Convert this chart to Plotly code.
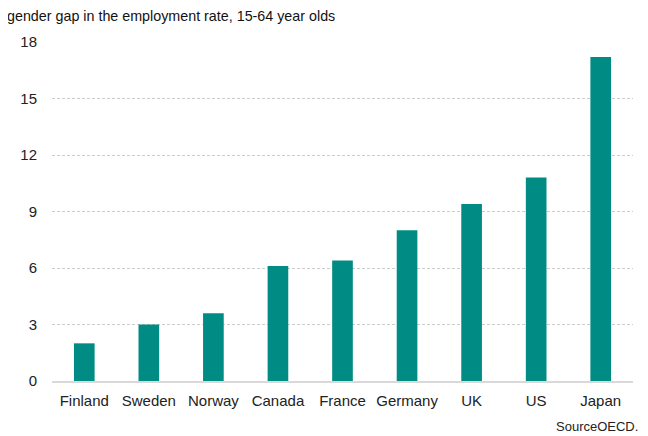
import plotly.graph_objects as go

countries = ["Finland", "Sweden", "Norway", "Canada", "France", "Germany", "UK", "US", "Japan"]
gap = [2.0, 3.0, 3.6, 6.1, 6.4, 8.0, 9.4, 10.8, 17.2]
y_ticks = [0, 3, 6, 9, 12, 15, 18]

fig = go.Figure(go.Bar(x=countries, y=gap, marker=dict(color="#008C84", line=dict(width=0))))

# page has 8px body margin; figure is 640x428 placed at (8,8)
fig.update_layout(
    width=640, height=428,
    margin=dict(l=44, r=15, t=34, b=55),
    paper_bgcolor="white", plot_bgcolor="white",
    bargap=0.68,
    showlegend=False,
    font=dict(family="Liberation Sans, Arial, sans-serif", size=14, color="#222222"),
    annotations=[
        dict(text="gender gap in the employment rate, 15-64 year olds", xref="paper", yref="paper",
             x=-47/581, y=1 + 26/339, xanchor="left", yanchor="middle", showarrow=False,
             font=dict(size=14.3, color="#111111")),
        dict(text="SourceOECD.", xref="paper", yref="paper",
             x=1 + 7/581, y=-45/339, xanchor="right", yanchor="middle", showarrow=False,
             font=dict(size=13, color="#222222")),
    ],
)
fig.update_yaxes(range=[0, 18], tickvals=y_ticks, showgrid=True, gridcolor="#CCCCCC",
                 griddash="3px,2px", gridwidth=1, zeroline=False, showline=False,
                 ticks="", ticklabelstandoff=14, tickfont=dict(size=15))
fig.update_xaxes(showline=True, linecolor="#D9D9D9", linewidth=1.5, ticks="",
                 showgrid=False, tickfont=dict(size=15), ticklabelstandoff=5)

fig.write_html("out.html")
